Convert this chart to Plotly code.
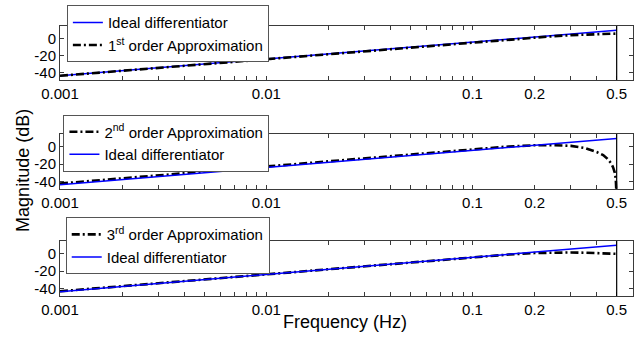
import math
import plotly.graph_objects as go

# ---- data ----
freq_ideal = [0.001, 0.002, 0.005, 0.01, 0.02, 0.05, 0.1, 0.2, 0.3, 0.4, 0.5]
mag_ideal = [-44.0, -38.0, -30.0, -24.0, -18.0, -10.0, -4.0, 2.0, 5.5, 8.0, 9.9]

freq_1st = [0.001, 0.002, 0.005, 0.01, 0.02, 0.05, 0.1, 0.15, 0.2, 0.25, 0.3, 0.35, 0.4, 0.45, 0.5]
mag_1st = [-44.0, -38.0, -30.0, -24.0, -18.0, -10.1, -4.2, -0.9, 1.4, 3.0, 4.2, 5.0, 5.6, 5.9, 6.0]

freq_2nd = [0.001, 0.002, 0.005, 0.01, 0.02, 0.05, 0.1, 0.15, 0.2, 0.25, 0.3, 0.35, 0.4, 0.43, 0.45, 0.47, 0.48, 0.49, 0.495, 0.5]
mag_2nd = [-42.5, -36.5, -28.5, -22.5, -16.5, -8.6, -2.7, 0.5, 1.9, 2.0, 1.2, -1.2, -5.9, -9.5, -13.6, -19.0, -23.5, -30.0, -37.0, -60.0]

freq_3rd = [0.001, 0.002, 0.005, 0.01, 0.02, 0.05, 0.1, 0.15, 0.2, 0.25, 0.3, 0.35, 0.4, 0.45, 0.5]
mag_3rd = [-43.5, -37.5, -29.5, -23.5, -17.6, -9.8, -3.9, -0.8, 0.9, 1.6, 1.6, 1.3, 0.9, 0.4, 0.0]

nyquist = 0.5

x_tickvals = [0.001, 0.002, 0.003, 0.004, 0.005, 0.006, 0.007, 0.008, 0.009,
              0.01, 0.02, 0.03, 0.04, 0.05, 0.06, 0.07, 0.08, 0.09,
              0.1, 0.2, 0.3, 0.4, 0.5]
x_ticktext = ["0.001", "", "", "", "", "", "", "", "",
              "0.01", "", "", "", "", "", "", "", "",
              "0.1", "0.2", "", "", "0.5"]
y_tickvals = [0, -20, -40]
y_ticktext = ["0", "-20", "-40"]

label_ideal = "Ideal differentiator"
label_1st = "1<sup>st</sup> order Approximation"
label_2nd = "2<sup>nd</sup> order Approximation"
label_3rd = "3<sup>rd</sup> order Approximation"

# ---- styling ----
FONT = "Liberation Sans, Arial, sans-serif"
BLUE = dict(color="#0000ff", width=1.5)
BLACK = dict(color="#000000", width=2.6, dash="8px,3px,2px,3px")
AXC = "#3a3a3a"

fig = go.Figure()

# panel 1
fig.add_trace(go.Scatter(x=freq_ideal, y=mag_ideal, mode="lines", line=BLUE,
                         name=label_ideal, xaxis="x", yaxis="y", legend="legend"))
fig.add_trace(go.Scatter(x=freq_1st, y=mag_1st, mode="lines", line=BLACK,
                         name=label_1st, xaxis="x", yaxis="y", legend="legend"))
# panel 2
fig.add_trace(go.Scatter(x=freq_2nd, y=mag_2nd, mode="lines", line=BLACK,
                         name=label_2nd, xaxis="x2", yaxis="y2", legend="legend2"))
fig.add_trace(go.Scatter(x=freq_ideal, y=mag_ideal, mode="lines", line=BLUE,
                         name=label_ideal, xaxis="x2", yaxis="y2", legend="legend2"))
# panel 3
fig.add_trace(go.Scatter(x=freq_3rd, y=mag_3rd, mode="lines", line=BLACK,
                         name=label_3rd, xaxis="x3", yaxis="y3", legend="legend3"))
fig.add_trace(go.Scatter(x=freq_ideal, y=mag_ideal, mode="lines", line=BLUE,
                         name=label_ideal, xaxis="x3", yaxis="y3", legend="legend3"))

xrange_log = [math.log10(0.001), math.log10(0.6)]
yrange = [-49, 15]

def xaxis_style(anchor):
    return dict(type="log", range=xrange_log, domain=[0, 1], anchor=anchor,
                tickmode="array", tickvals=x_tickvals, ticktext=x_ticktext,
                ticks="inside", ticklen=4, tickwidth=1, tickcolor=AXC,
                showline=True, linecolor=AXC, linewidth=1, mirror="allticks",
                showgrid=False, zeroline=False, automargin=False,
                tickfont=dict(family=FONT, size=15, color="#000"))

def yaxis_style(anchor, domain):
    return dict(range=yrange, domain=domain, anchor=anchor,
                tickmode="array", tickvals=y_tickvals, ticktext=y_ticktext,
                ticks="inside", ticklen=4, tickwidth=1, tickcolor=AXC,
                showline=True, linecolor=AXC, linewidth=1, mirror="allticks",
                showgrid=False, zeroline=False, automargin=False,
                tickfont=dict(family=FONT, size=15, color="#000"))

def legend_style(x, y):
    return dict(x=x, y=y, xanchor="left", yanchor="top", xref="paper", yref="paper",
                bgcolor="white", bordercolor="#555555", borderwidth=1,
                font=dict(family=FONT, size=15, color="#000"),
                itemwidth=30, tracegroupgap=0, traceorder="normal")

shapes = []
for xr, yr in [("x", "y domain"), ("x2", "y2 domain"), ("x3", "y3 domain")]:
    shapes.append(dict(type="line", xref=xr, yref=yr, x0=nyquist, x1=nyquist, y0=0, y1=1,
                       line=dict(color="#000000", width=1.2), layer="above"))

fig.update_layout(
    width=638, height=339, autosize=False,
    margin=dict(l=60, r=5, t=26, b=43),
    paper_bgcolor="white", plot_bgcolor="white",
    font=dict(family=FONT, color="#000"),
    xaxis=xaxis_style("y"),
    xaxis2=xaxis_style("y2"),
    xaxis3=xaxis_style("y3"),
    yaxis=yaxis_style("x", [0.800, 1.0]),
    yaxis2=yaxis_style("x2", [0.396, 0.600]),
    yaxis3=yaxis_style("x3", [0.0, 0.204]),
    legend=legend_style(0.012, 1.077),
    legend2=legend_style(0.006, 0.672),
    legend3=legend_style(0.010, 0.292),
    shapes=shapes,
    annotations=[
        dict(text="Magnitude (dB)", xref="paper", yref="paper", x=-0.0646, y=0.467,
             xanchor="center", yanchor="middle", textangle=-90, showarrow=False,
             font=dict(family=FONT, size=18, color="#000")),
        dict(text="Frequency (Hz)", xref="paper", yref="paper", x=0.497, y=-0.0963,
             xanchor="center", yanchor="middle", showarrow=False,
             font=dict(family=FONT, size=18, color="#000")),
    ],
)

fig.write_html("out.html", config={"displayModeBar": False},
               post_script="document.body.style.margin='0';document.body.style.padding='0';")
